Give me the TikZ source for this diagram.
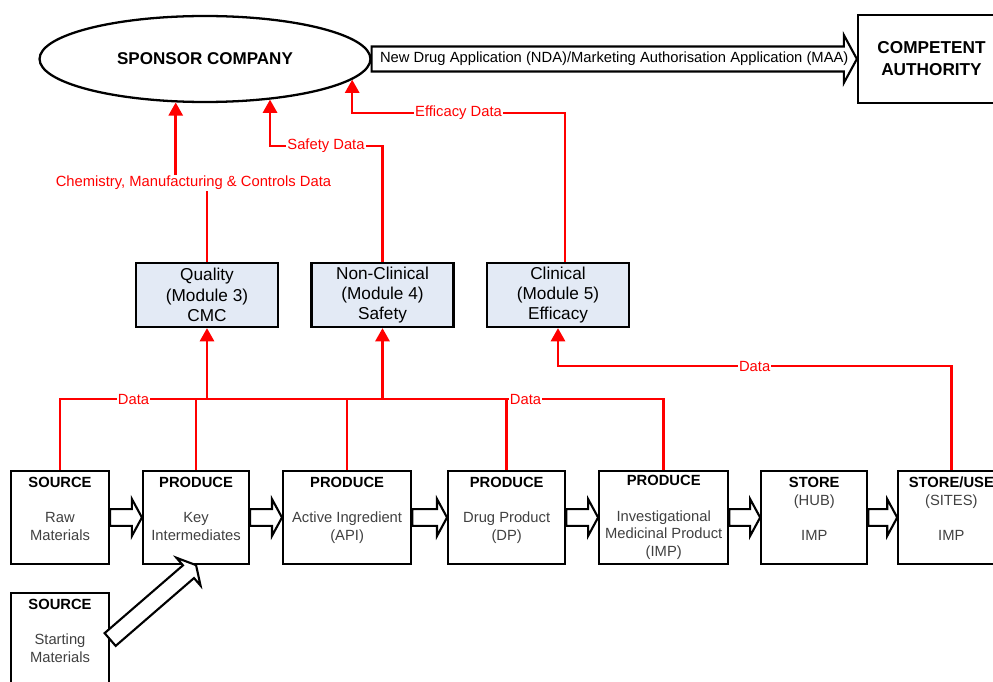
\documentclass[tikz,border=0pt]{standalone}
\usepackage{fontspec}
\setmainfont{Liberation Sans}
\usetikzlibrary{shapes.geometric, arrows.meta, positioning, calc}
\definecolor{modfill}{RGB}{227,234,245}
\definecolor{datared}{RGB}{255,0,0}
\definecolor{bodygray}{RGB}{64,64,64}

\begin{document}
\begin{tikzpicture}[x=0.02cm, y=-0.02cm,
  stage/.style={rectangle, draw, line width=1.3pt, minimum height=1.86cm, align=center, inner sep=1pt, text=bodygray, font=\fontsize{8.4}{10}\selectfont},
  module/.style={rectangle, draw, line width=1.3pt, fill=modfill, minimum width=2.84cm, minimum height=1.28cm, inner sep=1pt, align=center, font=\fontsize{9.8}{11.6}\selectfont},
  datalabel/.style={text=datared, fill=white, inner sep=0.6pt, font=\fontsize{8.4}{10}\selectfont},
  dataline/.style={draw=datared, line width=1.5pt},
  dataarrow/.style={dataline, -{Triangle[length=7.5pt, width=8pt]}},
  fatarrow/.style n args={3}{draw, line width=1.2pt, fill=white, line join=miter,
    to path={($(\tikztostart)!#1!90:(\tikztotarget)$)
      -- ($(\tikztotarget)!#3!(\tikztostart)!#1!90:(\tikztotarget)$)
      -- ($(\tikztotarget)!#3!(\tikztostart)!#2!90:(\tikztotarget)$)
      -- (\tikztotarget)
      -- ($(\tikztotarget)!#3!(\tikztostart)!#2!-90:(\tikztotarget)$)
      -- ($(\tikztotarget)!#3!(\tikztostart)!#1!-90:(\tikztotarget)$)
      -- ($(\tikztostart)!#1!-90:(\tikztotarget)$) -- cycle}},
  flowarrow/.style={fatarrow={4.8pt}{10.5pt}{5.7pt}},
  bigarrow/.style={fatarrow={7.1pt}{13.6pt}{7.4pt}}
]
\useasboundingbox (0,0) rectangle (993,682);

% sponsor and authority
\node[ellipse, draw, line width=1.3pt, minimum width=6.62cm, minimum height=1.72cm, font=\fontsize{9.7}{12}\selectfont\bfseries] (spon) at (205,59) {SPONSOR COMPANY};
\node[rectangle, draw, line width=1.3pt, minimum width=2.94cm, minimum height=1.76cm, align=center, font=\fontsize{9.8}{12.5}\selectfont\bfseries] (comp) at (931.5,59) {COMPETENT\\AUTHORITY};
\draw[bigarrow] (spon.east) to (comp.west);
\node[font=\fontsize{8.4}{10}\selectfont] (nda) at ($(spon.east)!0.5!(comp.west)$) {New Drug Application (NDA)/Marketing Authorisation Application (MAA)};

% CTD modules
\node[module] (qual) at (207,295) {Quality\\(Module 3)\\CMC};
\node[module] (nonc) at (382.5,295) {Non-Clinical\\(Module 4)\\Safety};
\node[module] (clin) at (558,295) {Clinical\\(Module 5)\\Efficacy};

% supply chain
\node[stage, minimum width=1.96cm] (raw) at (60,517.5) {\textcolor{black}{\textbf{SOURCE}}\\[10pt]Raw\\Materials\\\mbox{}};
\node[stage, minimum width=2.12cm, right=0.636cm of raw] (key) {\textcolor{black}{\textbf{PRODUCE}}\\[10pt]Key\\Intermediates\\\mbox{}};
\node[stage, minimum width=2.56cm, right=0.636cm of key] (api) {\textcolor{black}{\textbf{PRODUCE}}\\[10pt]Active Ingredient\\(API)\\\mbox{}};
\node[stage, minimum width=2.34cm, right=0.696cm of api] (dp) {\textcolor{black}{\textbf{PRODUCE}}\\[10pt]Drug Product\\(DP)\\\mbox{}};
\node[stage, minimum width=2.58cm, right=0.636cm of dp] (imp) {\textcolor{black}{\textbf{PRODUCE}}\\[10pt]Investigational\\Medicinal Product\\(IMP)};
\node[stage, minimum width=2.12cm, right=0.616cm of imp] (hub) {\textcolor{black}{\textbf{STORE}}\\(HUB)\\[10pt]IMP\\\mbox{}};
\node[stage, minimum width=2.12cm, right=0.576cm of hub] (site) {\textcolor{black}{\textbf{STORE/USE}}\\(SITES)\\[10pt]IMP\\\mbox{}};
\node[stage, minimum width=1.96cm, below=0.535cm of raw] (start) {\textcolor{black}{\textbf{SOURCE}}\\[10pt]Starting\\Materials\\\mbox{}};
\draw[flowarrow] (raw.east) to (key.west);
\draw[flowarrow] (key.east) to (api.west);
\draw[flowarrow] (api.east) to (dp.west);
\draw[flowarrow] (dp.east) to (imp.west);
\draw[flowarrow] (imp.east) to (hub.west);
\draw[flowarrow] (hub.east) to (site.west);
\draw[flowarrow] (start.east) to (key.south);

% data flows
\coordinate (bus) at (0,399);
\coordinate (clinbus) at (0,366);
\draw[dataline] (raw.north) -- (raw.north |- bus) -- node[datalabel] {Data} (qual.south |- bus) -- (dp.north |- bus) -- node[datalabel, pos=0.12] {Data} (imp.north |- bus) -- (imp.north);
\draw[dataline] (key.north) -- (key.north |- bus);
\draw[dataline] (api.north) -- (api.north |- bus);
\draw[dataline] (dp.north) -- (dp.north |- bus);
\draw[dataarrow] (qual.south |- bus) -- (qual.south);
\draw[dataarrow] (nonc.south |- bus) -- (nonc.south);
\draw[dataarrow] (site.north) -- (site.north |- clinbus) -- node[datalabel] {Data} (clin.south |- clinbus) -- (clin.south);

% submissions to sponsor
\node[datalabel] (cmcd) at (193.5,183) {Chemistry, Manufacturing \& Controls Data};
\draw[dataline] (qual.north) -- (qual.north |- cmcd.south);
\draw[dataarrow] (spon.236.6 |- cmcd.north) -- (spon.236.6);
\node[datalabel] (safd) at (326,146) {Safety Data};
\draw[dataline] (nonc.north) |- (safd.east);
\draw[dataarrow] (safd.west) -| (spon.328.7);
\node[datalabel] (effd) at (458.5,113) {Efficacy Data};
\draw[dataline] ([xshift=0.14cm]clin.north) |- (effd.east);
\draw[dataarrow] (effd.west) -| (spon.352.1);
\end{tikzpicture}
\end{document}
